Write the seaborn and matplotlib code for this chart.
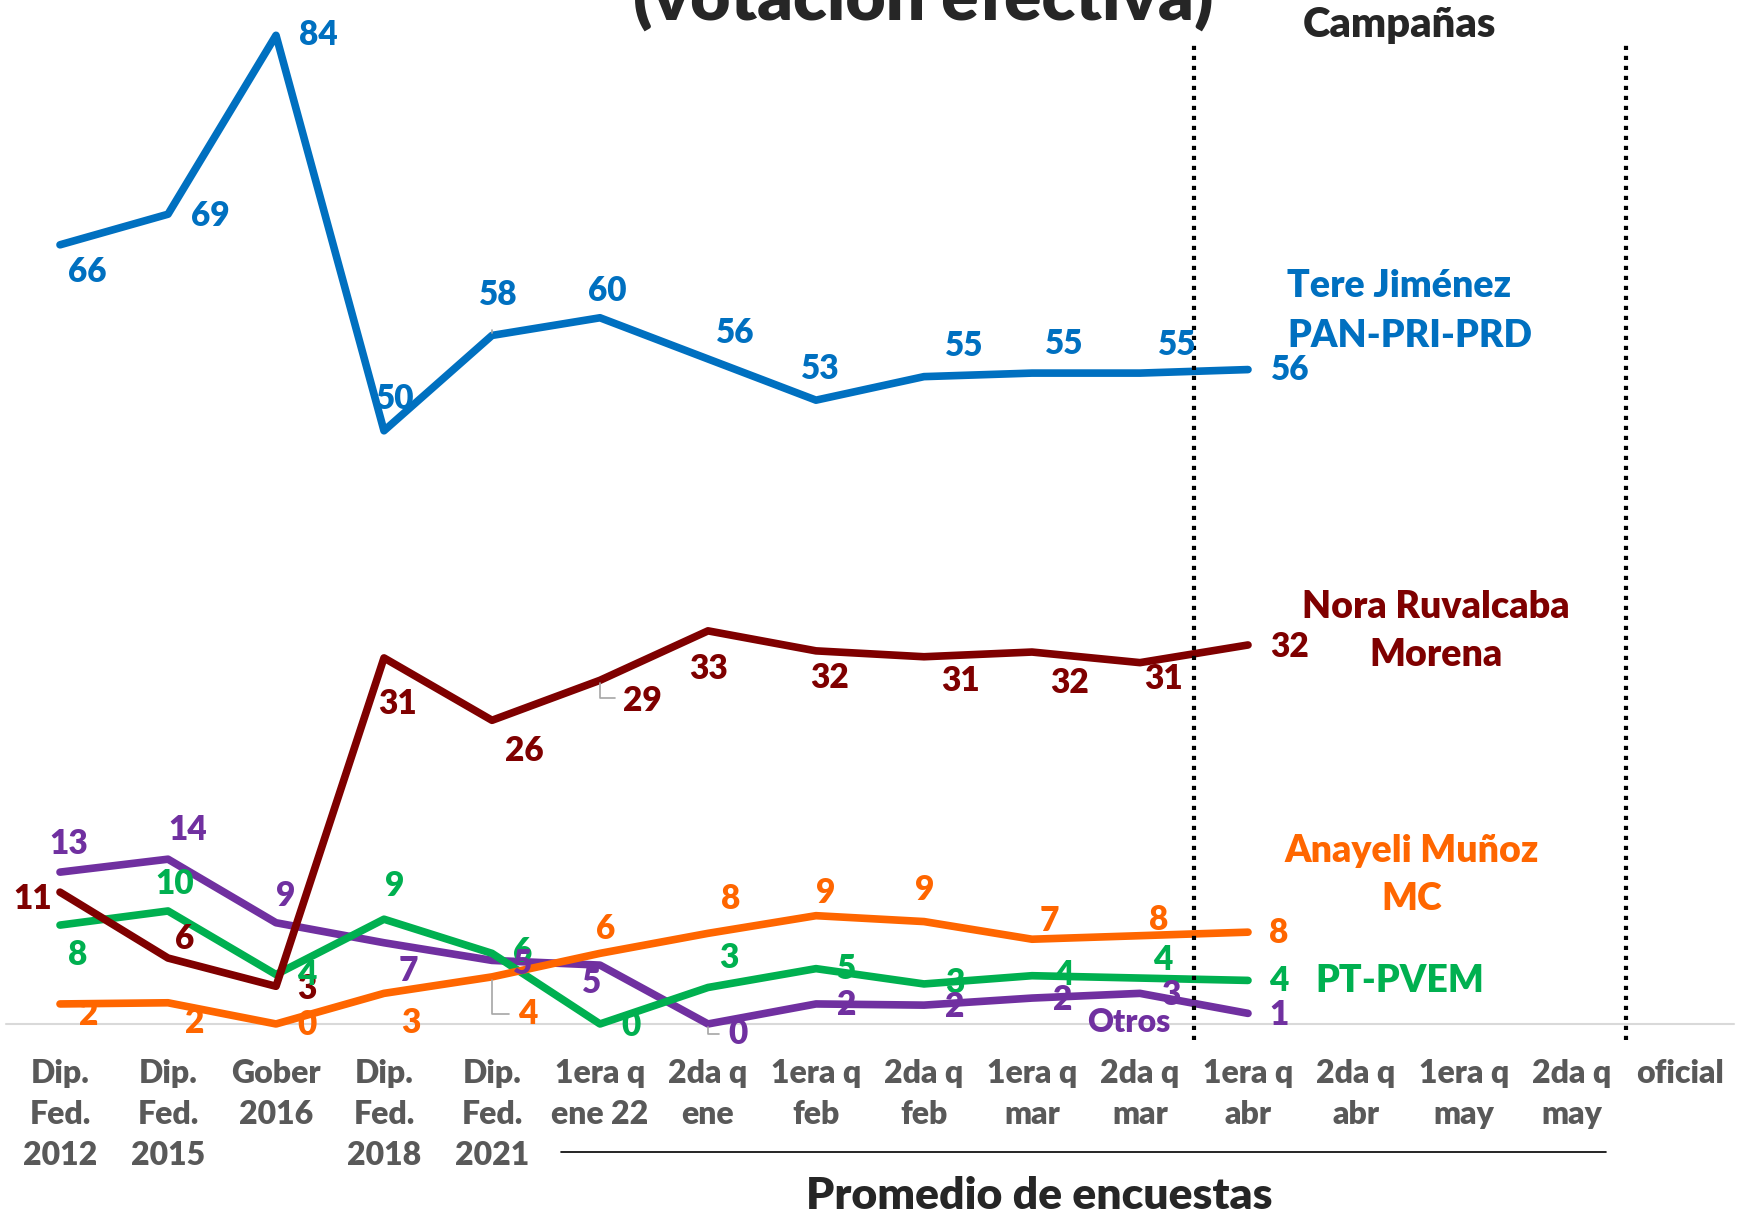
import numpy as np
import pandas as pd
import seaborn as sns
import matplotlib.pyplot as plt

# categories on the x axis
categories = ["Dip.\nFed.\n2012", "Dip.\nFed.\n2015", "Gober\n2016", "Dip.\nFed.\n2018",
              "Dip.\nFed.\n2021", "1era q\nene 22", "2da q\nene", "1era q\nfeb", "2da q\nfeb",
              "1era q\nmar", "2da q\nmar", "1era q\nabr", "2da q\nabr", "1era q\nmay",
              "2da q\nmay", "oficial"]

# series (first 12 categories have data)
pan_pri_prd = [66.2, 68.8, 84.0, 50.4, 58.5, 60.0, 56.5, 53.0, 55.0, 55.3, 55.3, 55.6]
morena = [11.2, 5.6, 3.2, 31.1, 25.8, 29.2, 33.4, 31.7, 31.2, 31.6, 30.7, 32.2]
mc = [1.7, 1.8, 0.0, 2.6, 4.0, 6.0, 7.7, 9.2, 8.7, 7.2, 7.5, 7.8]
pt_pvem = [8.4, 9.6, 4.2, 8.9, 6.0, 0.0, 3.1, 4.7, 3.4, 4.1, 3.9, 3.7]
otros = [12.9, 14.0, 8.6, 6.9, 5.4, 5.0, 0.0, 1.7, 1.6, 2.2, 2.6, 0.9]

series_names = ["PAN-PRI-PRD", "Morena", "MC", "PT-PVEM", "Otros"]
series_values = [pan_pri_prd, morena, mc, pt_pvem, otros]
colors = {"PAN-PRI-PRD": "#0070C0", "Morena": "#7F0000", "MC": "#FF6600",
          "PT-PVEM": "#00B050", "Otros": "#7030A0"}

# label offsets in pixels (dx, dy) for each data label
label_offsets = {
    "PAN-PRI-PRD": [(27, -27), (42, -2), (42, 0), (11, 32), (6, 40), (7, 27),
                    (27, 26), (4, 31), (40, 31), (32, 29), (37, 28), (42, 0)],
    "Morena": [(-27, -7), (17, 19), (31, -3), (14, -46), (32, -31), (42, -21),
               (1, -38), (14, -27), (37, -24), (38, -31), (24, -16), (42, -2)],
    "MC": [(29, -11), (27, -20), (31, -1), (27, -30), (36, -37), (6, 24),
           (23, 34), (10, 23), (1, 32), (17, 18), (19, 16), (31, -1)],
    "PT-PVEM": [(18, -30), (7, 27), (31, 0), (11, 33), (31, 1), (31, -2),
                (21, 29), (31, 0), (31, 1), (32, 1), (23, 18), (31, -1)],
    "Otros": [(9, 28), (20, 29), (10, 27), (24, -28), (31, -4), (-8, -18),
              (30, -10), (31, -1), (31, -2), (31, -2), (31, -2), (31, -2)],
}

rows = []
for name, vals in zip(series_names, series_values):
    for i, v in enumerate(vals):
        rows.append({"x": i, "valor": v, "serie": name})
df = pd.DataFrame(rows)

sns.set_style("white")
plt.rcParams['font.family'] = ['Lato', 'DejaVu Sans']
W = "heavy"

fig = plt.figure(figsize=(17.43, 12.15), dpi=100)
ax = fig.add_axes([6 / 1743, 1 - 1047.5 / 1215, 1728 / 1743, 1047.5 / 1215])

ax.axhline(0, color="#D9D9D9", lw=1.5, zorder=1)

sns.lineplot(data=df, x="x", y="valor", hue="serie", palette=colors,
             hue_order=series_names[::-1], linewidth=5.5, legend=False,
             sort=False, ax=ax, zorder=3)
for line in ax.lines:
    line.set_solid_capstyle("round")
    line.set_clip_on(False)

for name, vals in zip(series_names, series_values):
    for i, v in enumerate(vals):
        dx, dy = label_offsets[name][i]
        ax.annotate(f"{round(v):d}", (i, v), xytext=(dx, dy), textcoords="offset pixels",
                    ha="center", va="center", fontsize=24, fontweight=W,
                    color=colors[name], zorder=5)

# leader lines
for (i, v, name, dx, dy) in [(4, 58.5, "PAN-PRI-PRD", 0, 8), (5, 29.2, "Morena", 18, -18),
                             (4, 4.0, "MC", 20, -37), (6, 0.0, "Otros", 14, -10)]:
    ax.annotate("", (i, v), xytext=(dx, dy), textcoords="offset pixels",
                arrowprops=dict(arrowstyle="-", color="#A6A6A6", lw=1.2,
                                connectionstyle="angle,angleA=0,angleB=90,rad=0"))

# dotted separators
for xv in [10.5, 14.5]:
    ax.plot([xv, xv], [-1.4, 83.3], color="black", lw=3, ls=(0, (1, 1.4)),
            clip_on=False, zorder=4)

ax.set_xlim(-0.5, 15.5)
ax.set_ylim(-2, 87)
ax.set_xticks(range(len(categories)))
ax.set_xticklabels(categories, fontsize=23, fontweight=W, color="#595959",
                   linespacing=1.5)
ax.tick_params(axis="x", length=0, pad=8)
ax.set_yticks([])
ax.set_xlabel("")
ax.set_ylabel("")
for s in ax.spines.values():
    s.set_visible(False)

# series names
fig.text(1287 / 1743, 1 - 286 / 1215, "Tere Jiménez", color=colors["PAN-PRI-PRD"],
         fontsize=27, fontweight=W, ha="left", va="center")
fig.text(1287 / 1743, 1 - 336 / 1215, "PAN-PRI-PRD", color=colors["PAN-PRI-PRD"],
         fontsize=27, fontweight=W, ha="left", va="center")
fig.text(1436 / 1743, 1 - 631 / 1215, "Nora Ruvalcaba\nMorena", color=colors["Morena"],
         fontsize=27, fontweight=W, ha="center", va="center", linespacing=1.52)
fig.text(1412 / 1743, 1 - 875 / 1215, "Anayeli Muñoz\nMC", color=colors["MC"],
         fontsize=27, fontweight=W, ha="center", va="center", linespacing=1.52)
fig.text(1315 / 1743, 1 - 981 / 1215, "PT-PVEM", color=colors["PT-PVEM"],
         fontsize=27, fontweight=W, ha="left", va="center")
fig.text(1129 / 1743, 1 - 1023 / 1215, "Otros", color=colors["Otros"],
         fontsize=23, fontweight=W, ha="center", va="center")

# titles and group labels
fig.text(923 / 1743, 1 - 20 / 1215, "(votación efectiva)", fontsize=50,
         fontweight=W, ha="center", va="baseline")
fig.text(1400 / 1743, 1 - 25 / 1215, "Campañas", fontsize=30,
         fontweight=W, ha="center", va="center")
fig.add_artist(plt.Line2D([561 / 1743, 1606 / 1743], [1 - 1152 / 1215, 1 - 1152 / 1215],
                          color="black", lw=1.2))
fig.text(1039 / 1743, 1 - 1196 / 1215, "Promedio de encuestas", fontsize=32,
         fontweight=W, ha="center", va="center")

fig.savefig("out.png", dpi=100)
